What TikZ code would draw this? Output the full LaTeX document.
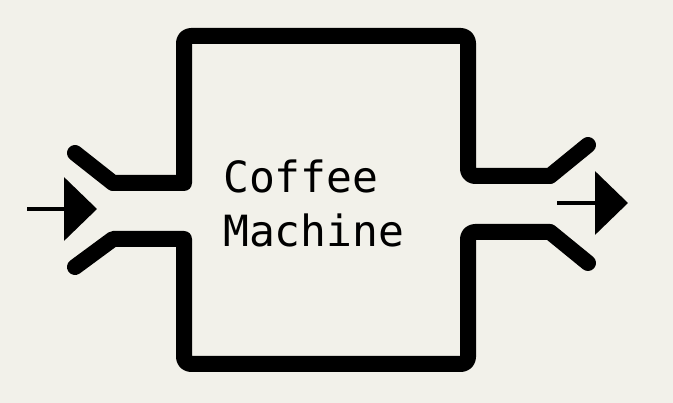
\documentclass[tikz,border=0pt]{standalone}
\usepackage{fontspec}
\usepackage{tikz}
\usetikzlibrary{arrows.meta}
\newfontfamily\monofont{DejaVu Sans Mono}
\definecolor{paperbg}{RGB}{242,241,234}
\tikzset{wall/.style={line width=16pt,line cap=round,line join=round},
  flow/.style={line width=4pt,-{Triangle[length=33pt,width=63pt]}},
  label/.style={font=\monofont\fontsize{43}{54}\selectfont,inner sep=0pt,anchor=base west}}

\begin{document}
\begin{tikzpicture}[x=1pt,y=-1pt]
  \fill[paperbg] (0,0) rectangle (673,403);
  \useasboundingbox (0,0) rectangle (673,403);
  % inlet and outlet
  \coordinate (inA) at (27,209);
  \coordinate (inB) at (97,209);
  \coordinate (outA) at (557,203);
  \coordinate (outB) at (628,203);
  \draw[wall] (75,153) -- (113,183) -- (184,183)
    [rounded corners=7pt] -- (184,36) -- (468,36) -- (468,176)
    [sharp corners] -- (550,176) -- (588,145);
  \draw[wall] (75,267) -- (113,239) -- (184,239)
    [rounded corners=7pt] -- (184,364) -- (468,364) -- (468,232)
    [sharp corners] -- (550,232) -- (588,263);
  \draw[flow] (inA) -- (inB);
  \draw[flow] (outA) -- (outB);
  \node[label] (coffee) at (223,193) {Coffee};
  \node[label] (machine) at (223,247) {Machine};
\end{tikzpicture}
\end{document}
